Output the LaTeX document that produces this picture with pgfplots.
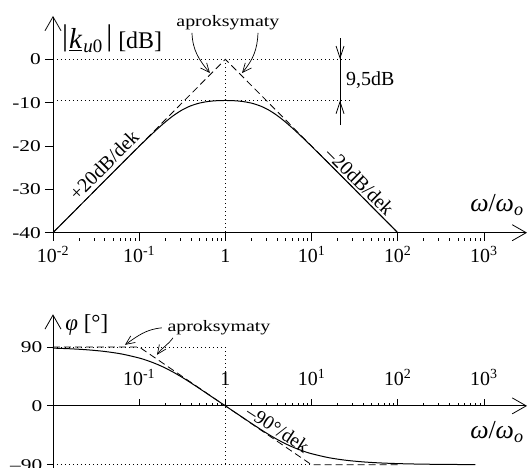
\documentclass[border=0pt]{standalone}
\usepackage{fontspec}
\setmainfont{Liberation Serif}
\newfontfamily\widefont{Liberation Serif}[FakeStretch=1.3]
\newfontfamily\apfont{Liberation Serif}[FakeStretch=1.25]
\usepackage{pgfplots}
\usepackage{pgfplotstable}
\pgfplotsset{compat=1.18}
\usetikzlibrary{arrows.meta}

% Magnitude of the band-pass transfer function, |k_u0| in dB
\pgfplotstableread{
x        mag
0.01     -40.00
0.015849 -36.00
0.025119 -32.00
0.039811 -28.00
0.063096 -24.02
0.1      -20.07
0.12589  -18.14
0.15849  -16.27
0.19953  -14.52
0.25119  -12.95
0.31623  -11.67
0.39811  -10.72
0.50119  -10.10
0.63096  -9.73
0.79433  -9.55
1        -9.50
1.2589   -9.55
1.5849   -9.73
1.9953   -10.10
2.5119   -10.72
3.1623   -11.67
3.9811   -12.95
5.0119   -14.52
6.3096   -16.27
7.9433   -18.14
10       -20.07
15.849   -24.02
25.119   -28.00
39.811   -32.00
63.096   -36.00
100      -40.00
}\magtable

% Phase in degrees
\pgfplotstableread{
x        ph
0.01     88.28
0.015849 87.28
0.025119 85.69
0.039811 83.18
0.063096 79.24
0.1      73.14
0.12589  69.00
0.15849  64.00
0.19953  58.06
0.25119  51.19
0.31623  43.49
0.39811  35.17
0.50119  26.47
0.63096  17.64
0.79433  8.80
1        0
1.2589   -8.80
1.5849   -17.64
1.9953   -26.47
2.5119   -35.17
3.1623   -43.49
3.9811   -51.19
5.0119   -58.06
6.3096   -64.00
7.9433   -69.00
10       -73.14
15.849   -79.24
25.119   -83.18
39.811   -85.69
63.096   -87.28
100      -88.28
158.49   -88.92
251.19   -89.32
398.11   -89.57
630.96   -89.73
794.33   -89.78
}\phtable

\tikzset{
  mybarb/.style={-{Straight Barb[length=9bp,width=8bp,line width=0.7bp]}},
  myasym/.style={black, line width=0.8bp, dash pattern=on 7bp off 4bp},
  mydot/.style={black, line width=0.7bp, dash pattern=on 0.7bp off 3.3bp},
  mycurve/.style={black, line width=1bp},
}
\newcommand\omratio{\textit{ω}/\textit{ω}\textsubscript{\textit{o}}}

\begin{document}
\begin{tikzpicture}

% ---------- magnitude ----------
\begin{axis}[
  at={(53bp,235.3bp)}, anchor=south west,
  scale only axis, width=474bp, height=216.75bp,
  xmode=log, xmin=0.01, xmax=3162.3,
  ymin=-40, ymax=10,
  enlargelimits=false, clip=false,
  axis x line*=bottom, axis y line*=left,
  axis line style={line width=0.8bp, -{Straight Barb[length=14bp,width=16bp,line width=0.8bp]}},
  tick style={line width=0.8bp, black},
  tick align=inside,
  major tick length=8bp,
  every x tick/.append style={yshift=-8bp},
  every y tick/.append style={xshift=-8bp},
  xtick={0.01,0.1,1,10,100,1000},
  xticklabels={10\textsuperscript{-2},10\textsuperscript{-1},1,10\textsuperscript{1},10\textsuperscript{2},10\textsuperscript{3}},
  x tick label style={font=\fontsize{20}{24}\selectfont, anchor=base, inner sep=0pt, yshift=-30bp},
  ytick={-40,-30,-20,-10,0},
  yticklabels={-40,-30,-20,-10,0},
  y tick label style={font=\widefont\fontsize{16.5}{20}\selectfont, anchor=east, inner sep=0pt, xshift=-12bp},
]
\addplot[mydot] coordinates {(0.01,0) (29.4,0)};
\addplot[mydot] coordinates {(0.01,-9.5) (29.4,-9.5)};
\addplot[mydot] coordinates {(1,0) (1,-40)};
\addplot[myasym] coordinates {(0.01,-40) (1,0) (100,-40)};
\addplot[mycurve, smooth] table[x=x,y=mag] {\magtable};

% 9,5 dB gap between asymptote corner and peak
\draw[line width=0.8bp] (axis cs:21.4,4.9) -- (axis cs:21.4,-15.2);
\draw[line width=0.8bp,-{Straight Barb[length=12bp,width=8bp,line width=0.8bp]}] (axis cs:21.4,4.9) -- (axis cs:21.4,0);
\draw[line width=0.8bp,-{Straight Barb[length=12bp,width=8bp,line width=0.8bp]}] (axis cs:21.4,-15.2) -- (axis cs:21.4,-9.5);
\node[anchor=west, inner sep=0pt, font=\fontsize{20}{24}\selectfont] at (axis cs:25.1,-4.75) {9,5dB};

\node[anchor=base, font=\apfont\fontsize{16}{20}\selectfont] at (axis cs:1.07,7.68) {aproksymaty};
\draw[line width=0.7bp, mybarb] (axis cs:0.41,6.07) to[out=-88,in=130] (axis cs:0.662,-3.16);
\draw[line width=0.7bp, mybarb] (axis cs:2.39,6.07) to[out=-92,in=50] (axis cs:1.56,-3.16);

\node[rotate=45, font=\fontsize{20}{24}\selectfont] at (axis cs:0.0391,-24.4) {+20dB/dek};
\node[rotate=-45, font=\fontsize{20}{24}\selectfont] at (axis cs:36.4,-28.1) {\textendash 20dB/dek};

\node[font=\fontsize{26}{30}\selectfont] at (axis cs:1416,-33.6) {\omratio};

\node[anchor=base west, inner sep=0pt] at (axis cs:0.0127,2.38)
  {\raisebox{3bp}{\fontsize{30}{30}\selectfont|}\kern1bp{\fontsize{29}{30}\selectfont\underline{\textit{k}}}\kern1bp{\fontsize{19}{20}\selectfont\raisebox{-4bp}{\textit{u}0}}\kern4bp\raisebox{3bp}{\fontsize{30}{30}\selectfont|}\kern6bp{\fontsize{24}{28}\selectfont[dB]}};
\end{axis}

% ---------- phase ----------
\begin{axis}[
  at={(53bp,0bp)}, anchor=south west,
  scale only axis, width=474bp, height=153.7bp,
  xmode=log, xmin=0.01, xmax=3162.3,
  ymin=-95, ymax=140,
  enlargelimits=false, clip=false,
  axis x line*=middle, axis y line*=left,
  axis line style={line width=0.8bp, -{Straight Barb[length=14bp,width=16bp,line width=0.8bp]}},
  tick style={line width=0.8bp, black},
  tick align=inside,
  major tick length=7bp,
  every y tick/.append style={xshift=-6bp},
  xtick={0.1,1,10,100,1000},
  xticklabels={10\textsuperscript{-1},1,10\textsuperscript{1},10\textsuperscript{2},10\textsuperscript{3}},
  x tick label style={font=\fontsize{20}{24}\selectfont, anchor=base, inner sep=0pt, yshift=20bp},
  ytick={-90,0,90},
  yticklabels={\textendash 90,0,90},
  y tick label style={font=\widefont\fontsize{16.5}{20}\selectfont, anchor=east, inner sep=0pt, xshift=-10.5bp},
]
\addplot[mydot] coordinates {(0.01,90) (1,90)};
\addplot[mydot] coordinates {(1,90) (1,-90)};
\addplot[mydot] coordinates {(0.01,-90) (10,-90)};
\addplot[myasym] coordinates {(0.01,90) (0.1,90) (10,-90) (100,-90)};
\addplot[mycurve, smooth] table[x=x,y=ph] {\phtable};

\node[anchor=base, font=\apfont\fontsize{16}{20}\selectfont] at (axis cs:0.843,113.1) {aproksymaty};
\draw[line width=0.7bp, mybarb] (axis cs:0.1838,119.3) to[out=185,in=35] (axis cs:0.0684,93.3);
\draw[line width=0.7bp, mybarb] (axis cs:0.2466,104) to[out=235,in=55] (axis cs:0.1609,78);

\node[rotate=-33, font=\fontsize{19.5}{23}\selectfont] at (axis cs:4.07,-35.2) {\textendash 90°/dek};

\node[font=\fontsize{26}{30}\selectfont] at (axis cs:1416,-39.8) {\omratio};

\node[anchor=west, font=\fontsize{23}{27}\selectfont] at (axis cs:0.0127,123.9) {\textit{φ} [°]};
\end{axis}

\pgfresetboundingbox
\path[use as bounding box] (0,0) rectangle (528bp,468bp);
\end{tikzpicture}
\end{document}
